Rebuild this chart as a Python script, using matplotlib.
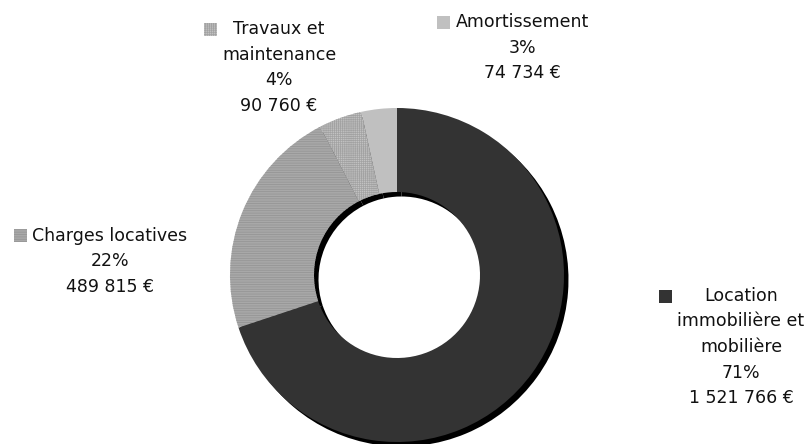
import matplotlib
matplotlib.use("Agg")
import matplotlib.pyplot as plt
from matplotlib.patches import Rectangle

# data
categories = ["Location\nimmobilière et\nmobilière", "Charges locatives",
              "Travaux et\nmaintenance", "Amortissement"]
amounts = [1521766, 489815, 90760, 74734]
pct_labels = ["71%", "22%", "4%", "3%"]

# styling per slice: face, hatch colour, hatch pattern
faces = ["#333333", "#a8a8a8", "#c2c2c2", "#c0c0c0"]
hatch_cols = ["#333333", "#929292", "#a2a2a2", "#c0c0c0"]
hatches = [None, "-------", "++++++++", None]

# label anchor (centre x, first line y) in image pixels, top-down
label_pos = [(741, 296), (110, 236), (279, 29), (522, 22)]

W, H = 810, 444
CX, CY, R, HOLE = 397, 275, 167, 83
SHADOW = 4.5
LINE = 25.5

plt.rcParams["hatch.linewidth"] = 0.5
fig = plt.figure(figsize=(W / 100, H / 100), dpi=100)
ax = fig.add_axes([0, 0, 1, 1])


def py(y):
    return H - y


# drop shadow of the whole ring
ax.pie(amounts, radius=R, center=(CX + SHADOW, py(CY + SHADOW)), startangle=90,
       counterclock=False, colors=["black"] * len(amounts),
       wedgeprops=dict(width=R - HOLE, linewidth=0))

wedges, _ = ax.pie(amounts, radius=R, center=(CX, py(CY)), startangle=90,
                   counterclock=False, colors=faces,
                   wedgeprops=dict(width=R - HOLE, linewidth=0))
for w, hc, h in zip(wedges, hatch_cols, hatches):
    w.set_edgecolor(hc)
    w.set_linewidth(0)
    if h:
        w.set_hatch(h)

ax.set_xlim(0, W)
ax.set_ylim(0, H)
ax.set_aspect("equal")
ax.axis("off")

fig.canvas.draw()
renderer = fig.canvas.get_renderer()
for i, (cat, pct, val) in enumerate(zip(categories, pct_labels, amounts)):
    x0, y0 = label_pos[i]
    lines = cat.split("\n") + [pct, f"{val:,}".replace(",", " ") + " €"]
    left = None
    for j, ln in enumerate(lines):
        t = ax.text(x0, py(y0 + j * LINE), ln, ha="center", va="center",
                    fontsize=12.5, color="#111111", family="DejaVu Sans")
        bb = t.get_window_extent(renderer)
        left = bb.x0 if left is None else min(left, bb.x0)
    sz = 13
    ax.add_patch(Rectangle((left - 5 - sz, py(y0) - sz / 2), sz, sz,
                           facecolor=faces[i], edgecolor=hatch_cols[i],
                           hatch=hatches[i], linewidth=0))

fig.savefig("out.png", dpi=100)
